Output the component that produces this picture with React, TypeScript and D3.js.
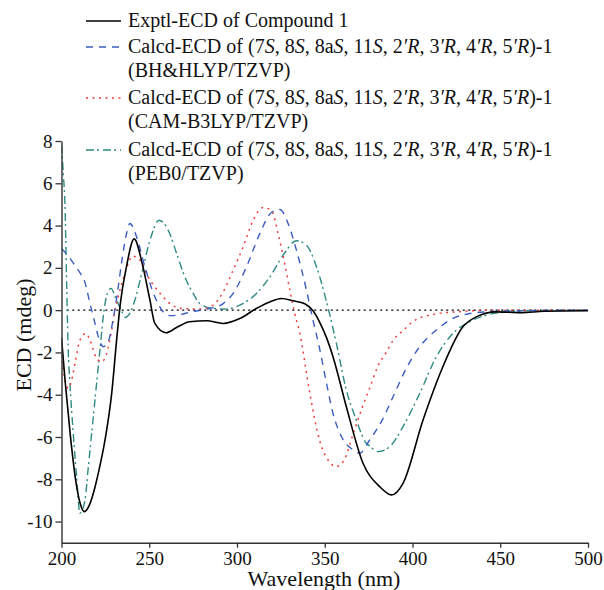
import React, { useEffect, useRef } from 'react';
import * as d3 from 'd3';

// wavelength (nm), ECD (mdeg)
const exptl: [number, number][] = [
  [200, -1.3], [202, -3.3], [205, -5.9], [208, -8.0], [210.5, -9.1], [213, -9.53],
  [216, -9.2], [219, -8.4], [221, -7.7], [224.8, -6.14], [228.6, -3.94], [231.4, -1.42],
  [233.5, 0.3], [237, 2.05], [241.4, 3.37], [246, 2.2], [250.4, 0.47], [253.2, -0.63],
  [259.5, -1.07], [266, -0.8], [273, -0.55], [282.6, -0.5], [292, -0.63], [301.6, -0.4],
  [311, 0.08], [318.7, 0.39], [325.3, 0.55], [332, 0.44], [338.6, 0.3], [343.3, -0.03],
  [347, -0.55], [351, -1.3], [354.7, -2.2], [362.3, -4.57], [371.8, -7.24], [381.3, -8.35],
  [388, -8.74], [394.6, -8.19], [406, -5.2], [417.3, -2.68], [428.7, -0.79], [436.3, -0.32],
  [447.7, -0.08], [462, -0.12], [475, -0.05], [500, -0.03],
];

const bhhlyp: [number, number][] = [
  [200, 2.9], [204, 2.55], [207.7, 2.1], [211, 1.7], [213.4, 1.3], [216, 0.4], [219, -0.6],
  [221.5, -1.4], [223.8, -1.73], [226.6, -1.5], [229.5, -0.4], [232, 0.9], [234.5, 2.4],
  [237, 3.6], [239, 4.1], [242.8, 3.46], [247.5, 2.05], [253.2, 0.63], [258.9, -0.16],
  [262, -0.26], [266, -0.24], [274, -0.08], [284.5, 0.08], [292.1, 0.31], [297.8, 0.79],
  [305.4, 2.05], [313, 3.62], [319.6, 4.62], [324.4, 4.76], [329.1, 4.1], [333.9, 2.83],
  [339.6, 0.94], [343.3, -0.47], [346.5, -1.6], [351, -3.46], [354.7, -4.88], [359.5, -5.98],
  [366.1, -6.61], [370, -6.77], [375.6, -6.14], [382.3, -5.27], [388.9, -4.1], [396.5, -2.75],
  [404.1, -1.73], [413.6, -0.94], [423, -0.39], [432.5, -0.16], [442, -0.08], [460, -0.03],
  [500, 0],
];

const camb3lyp: [number, number][] = [
  [200, -2.1], [202, -3.3], [203.9, -3.7], [205.8, -3.3], [207.7, -2.52], [210.5, -1.42],
  [214, -1.1], [216.2, -1.42], [220, -2.28], [222.9, -2.44], [225.7, -2.05], [228.6, -0.94],
  [230.5, 0], [232.3, 0.63], [236.1, 1.73], [240.5, 2.55], [244.7, 2.36], [249.4, 1.57],
  [257, 0.71], [261.8, 0.31], [268.4, 0.08], [278.8, 0.05], [286.4, 0.24], [292.1, 0.86],
  [297.8, 1.89], [303.5, 2.99], [309.2, 4.25], [314.9, 4.85], [319.6, 4.72], [323.4, 3.62],
  [327.2, 2.2], [330.1, 0.94], [332.9, -0.16], [335.8, -1.1], [341.5, -3.94], [347.2, -6.2],
  [352, -7.1], [356.5, -7.4], [361, -7.1], [366, -5.9], [371.8, -4.5], [376, -3.6],
  [380, -2.7], [385, -2.0], [389, -1.42], [395, -0.94], [400, -0.55], [412, -0.2],
  [425, -0.08], [450, 0], [500, 0],
];

const peb0: [number, number][] = [
  [200, 7.8], [201, 6.5], [202, 4.9], [203, 1.0], [203.8, -1.8], [204.8, -3.46],
  [206.7, -5.83], [208.6, -7.87], [210.5, -9.6], [213.4, -8.97], [215.3, -7.4], [217.2, -5.83],
  [220, -3.46], [221.9, -1.89], [223.8, -0.3], [225.5, 0.6], [228.2, 1.03], [231, 0.55],
  [234, 0.0], [236.5, -0.35], [238.5, -0.2], [241.8, 0.47], [245.7, 1.73], [250.4, 3.3],
  [255.6, 4.25], [260.8, 3.78], [265.6, 2.68], [270.3, 1.57], [275, 0.79], [278.8, 0.31],
  [286.4, 0.08], [294, 0.05], [301.6, 0.24], [311.1, 0.79], [318.7, 1.57], [326.3, 2.6],
  [333.9, 3.28], [339.6, 3.07], [345.3, 2.05], [351, 0.4], [356.7, -1.6], [362.3, -3.78],
  [368, -5.2], [373.7, -6.3], [375.2, -6.4], [380.3, -6.69], [387, -6.46], [394.6, -5.51],
  [404.1, -3.94], [413.6, -2.2], [423, -1.1], [432.5, -0.55], [442, -0.24], [455, -0.08],
  [475, -0.02], [500, 0],
];

const yTicks = [-10, -8, -6, -4, -2, 0, 2, 4, 6, 8];
const xTicks = [200, 250, 300, 350, 400, 450, 500];

const serif = "'Liberation Serif', Tinos, 'Times New Roman', Times, 'DejaVu Serif', 'Noto Serif', serif";

// legend label: plain pieces and italic pieces
const calcdParts: [string, boolean][] = [
  ['Calcd-ECD of (7', false], ['S', true], [', 8', false], ['S', true], [', 8a', false],
  ['S', true], [', 11', false], ['S', true], [', 2', false], ['′R', true], [', 3', false],
  ['′R', true], [', 4', false], ['′R', true], [', 5', false], ['′R', true], [')-1', false],
];

const series = [
  { name: 'exptl', data: exptl, color: '#000000', dash: null, label: 'Exptl-ECD of Compound 1', sub: null, width: 1.6 },
  { name: 'bh', data: bhhlyp, color: '#3b5cc4', dash: '7 6', label: null, sub: '(BH&HLYP/TZVP)', width: 1.4 },
  { name: 'cam', data: camb3lyp, color: '#f03c3c', dash: '2 4.5', label: null, sub: '(CAM-B3LYP/TZVP)', width: 1.5 },
  { name: 'peb0', data: peb0, color: '#2e8a84', dash: '8 3 2 4', label: null, sub: '(PEB0/TZVP)', width: 1.4 },
];

const legendY = [21, 47, 98, 150];

const App = () => {
  const ref = useRef<SVGSVGElement>(null);
  const width = 604;
  const height = 590;

  useEffect(() => {
    const svg = d3.select(ref.current);
    svg.selectAll('*').remove();

    const x = d3.scaleLinear().domain([200, 500]).range([61.5, 588]);
    const y = d3.scaleLinear().domain([-11, 8]).range([542.7, 141]);

    svg.append('clipPath').attr('id', 'plot')
      .append('rect').attr('x', 61.5).attr('y', 135).attr('width', 527).attr('height', 408);

    // zero line
    svg.append('line')
      .attr('x1', x(203)).attr('x2', x(500))
      .attr('y1', y(0)).attr('y2', y(0))
      .attr('stroke', '#000').attr('stroke-width', 1.3)
      .attr('stroke-dasharray', '2 3.5');

    const line = d3.line<[number, number]>()
      .x(d => x(d[0]))
      .y(d => y(d[1]))
      .curve(d3.curveMonotoneX);

    const g = svg.append('g').attr('clip-path', 'url(#plot)');
    // draw calcd first, exptl on top
    [...series].reverse().forEach(s => {
      g.append('path')
        .datum(s.data)
        .attr('d', line)
        .attr('fill', 'none')
        .attr('stroke', s.color)
        .attr('stroke-width', s.width)
        .attr('stroke-dasharray', s.dash);
    });

    // axes
    const yAxis = svg.append('g')
      .attr('transform', `translate(${x(200)},0)`)
      .call(d3.axisLeft(y).tickValues(yTicks).tickSize(6).tickSizeOuter(0).tickPadding(3).tickFormat(d => String(d)));
    const xAxis = svg.append('g')
      .attr('transform', `translate(0,${y(-11)})`)
      .call(d3.axisBottom(x).tickValues(xTicks).tickSize(5).tickSizeOuter(0).tickPadding(4).tickFormat(d => String(d)));

    [yAxis, xAxis].forEach(a => {
      a.attr('font-family', null).attr('font-size', null);
      a.select('.domain').attr('stroke', '#333').attr('stroke-width', 1.4);
      a.selectAll('.tick line').attr('stroke', '#333').attr('stroke-width', 1.3);
      a.selectAll('.tick text')
        .style('font-family', serif).style('font-size', '19px').attr('fill', '#111');
    });

    svg.append('text')
      .attr('x', 324).attr('y', 586)
      .attr('text-anchor', 'middle')
      .style('font-family', serif).style('font-size', '22px').attr('fill', '#111')
      .text('Wavelength (nm)');

    svg.append('text')
      .attr('transform', `translate(31,335) rotate(-90)`)
      .attr('text-anchor', 'middle')
      .style('font-family', serif).style('font-size', '22px').attr('fill', '#111')
      .text('ECD (mdeg)');

    // legend
    const lg = svg.append('g').style('font-family', serif).style('font-size', '20px').attr('fill', '#111');
    series.forEach((s, i) => {
      const ly = legendY[i];
      lg.append('line')
        .attr('x1', 86).attr('x2', 121).attr('y1', ly).attr('y2', ly)
        .attr('stroke', s.color).attr('stroke-width', s.width)
        .attr('stroke-dasharray', s.dash);
      const t = lg.append('text').attr('x', 128).attr('y', ly + 6);
      if (s.label) {
        t.text(s.label);
      } else {
        calcdParts.forEach(([str, it]) => {
          t.append('tspan').attr('font-style', it ? 'italic' : 'normal').text(str);
        });
        lg.append('text').attr('x', 128).attr('y', ly + 30).text(s.sub);
      }
    });
  }, []);

  return (
    <svg ref={ref} width={width} height={height}
      style={{ position: 'absolute', left: 0, top: 0, background: '#fff' }} />
  );
};

export default App;
